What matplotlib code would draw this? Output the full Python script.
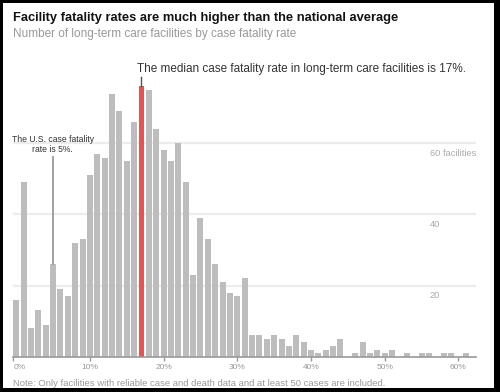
import matplotlib
matplotlib.use('Agg')
import matplotlib.pyplot as plt
from matplotlib.patches import Rectangle
import matplotlib.transforms as mtransforms

# ---- data ----
rates = list(range(0, 62))  # case fatality rate bins (%)
counts = [16, 49, 8, 13, 9, 26, 19, 17, 32, 33,
          51, 57, 56, 74, 69, 55, 66, 76, 75, 64,
          58, 55, 60, 49, 23, 39, 33, 26, 21, 18,
          17, 22, 6, 6, 5, 6, 5, 3, 6, 4,
          2, 1, 2, 3, 5, 0, 1, 4, 1, 2,
          1, 2, 0, 1, 0, 1, 1, 0, 1, 1,
          0, 1]
median_rate = 17
us_rate = 5
x_ticks = [0, 10, 20, 30, 40, 50, 60]
x_tick_labels = ['0%', '10%', '20%', '30%', '40%', '50%', '60%']
y_grid = [20, 40, 60]
y_labels = ['20', '40', '60 facilities']

title = 'Facility fatality rates are much higher than the national average'
subtitle = 'Number of long-term care facilities by case fatality rate'
note = 'Note: Only facilities with reliable case and death data and at least 50 cases are included.'
median_text = 'The median case fatality rate in long-term care facilities is 17%.'
us_text = 'The U.S. case fatality\nrate is 5%.'

W, H = 500, 392
FONT = 'Liberation Sans'

fig = plt.figure(figsize=(W / 100, H / 100), dpi=100)
fig.patch.set_facecolor('black')
fig.add_artist(Rectangle((3 / W, 1 - 388 / H), (494 - 3) / W, (388 - 3) / H,
                         transform=fig.transFigure, facecolor='white',
                         edgecolor='none', zorder=-10))

def fx(px):
    return px / W

def fy(py):
    return 1 - py / H

# axes geometry (pixels)
base_px = 356.7
px_per_unit = 3.556
ymax = 80
x_left_px, x_right_px = 13.3, 476.0
x0_px, px_per_pct = 16.2, 7.37
xmin = (x_left_px - x0_px) / px_per_pct
xmax = (x_right_px - x0_px) / px_per_pct

ax = fig.add_axes([fx(x_left_px), fy(base_px), (x_right_px - x_left_px) / W,
                   ymax * px_per_unit / H])
ax.set_facecolor('none')
ax.set_xlim(xmin, xmax)
ax.set_ylim(0, ymax)

colors = ['#e05656' if r == median_rate else '#bdbdbd' for r in rates]
ax.bar(rates, counts, width=0.81, color=colors, zorder=2, linewidth=0)

for g in y_grid:
    ax.axhline(g, color='#ececec', lw=1.6, zorder=0)

for s in ['top', 'right', 'left']:
    ax.spines[s].set_visible(False)
ax.spines['bottom'].set_color('#999999')
ax.spines['bottom'].set_linewidth(1.2)
ax.set_yticks([])
tick_pos = [xmin + 0.02 if t == 0 else t for t in x_ticks]
ax.set_xticks(tick_pos)
ax.set_xticklabels([])
ax.tick_params(axis='x', direction='out', length=3, width=1, color='#999999')

renderer = fig.canvas.get_renderer()

def fit(t, target):
    w = t.get_window_extent(renderer).width
    t.set_fontsize(t.get_fontsize() * target / w)

# x tick labels
trans = mtransforms.blended_transform_factory(ax.transData, fig.transFigure)
tls = []
for t, lab in zip(tick_pos, x_tick_labels):
    tl = ax.text(t, fy(368.7), lab, transform=trans, ha='left' if lab == '0%' else 'center',
                 va='baseline', fontsize=7, color='#999999', family=FONT)
    tls.append(tl)
fit(tls[-1], 17)
for tl in tls:
    tl.set_fontsize(tls[-1].get_fontsize())

# y labels
ylabs = []
for g, lab, by in zip(y_grid, y_labels, [298.5, 227.3, 156.3]):
    yl = fig.text(fx(430), fy(by), lab, ha='left', va='baseline', fontsize=7,
                  color='#aaaaaa', family=FONT)
    ylabs.append(yl)
fit(ylabs[-1], 46)
for yl in ylabs:
    yl.set_fontsize(ylabs[-1].get_fontsize())

# title / subtitle / note
tt = fig.text(fx(13.3), fy(20.7), title, ha='left', va='baseline', fontsize=10,
              fontweight='bold', color='#121212', family=FONT)
fit(tt, 385)
st = fig.text(fx(13.3), fy(37.3), subtitle, ha='left', va='baseline', fontsize=9,
              color='#999999', family=FONT)
fit(st, 284)
nt = fig.text(fx(13.3), fy(386.3), note, ha='left', va='baseline', fontsize=7,
              color='#999999', family=FONT)
fit(nt, 372)

# median annotation
mt = fig.text(fx(137.3), fy(72), median_text, ha='left', va='baseline', fontsize=9,
              color='#333333', family=FONT)
fit(mt, 330)
ax.plot([median_rate, median_rate], [counts[median_rate] + 0.2,
        (base_px - 76.7) / px_per_unit], color='#555555', lw=1, zorder=3,
        clip_on=False)

# US annotation
ut = fig.text(fx(52.8), fy(152), us_text, ha='center', va='baseline', fontsize=7,
              color='#333333', family=FONT, linespacing=1.15)
l1 = fig.text(0, 0, 'The U.S. case fatality', fontsize=7, family=FONT)
w1 = l1.get_window_extent(renderer).width
l1.remove()
ut.set_fontsize(7 * 82 / w1)
ax.plot([us_rate, us_rate], [counts[us_rate],
        (base_px - 156.7) / px_per_unit], color='#999999', lw=1.3, zorder=3,
        clip_on=False)

fig.savefig('out.png', dpi=100, facecolor=fig.get_facecolor())
